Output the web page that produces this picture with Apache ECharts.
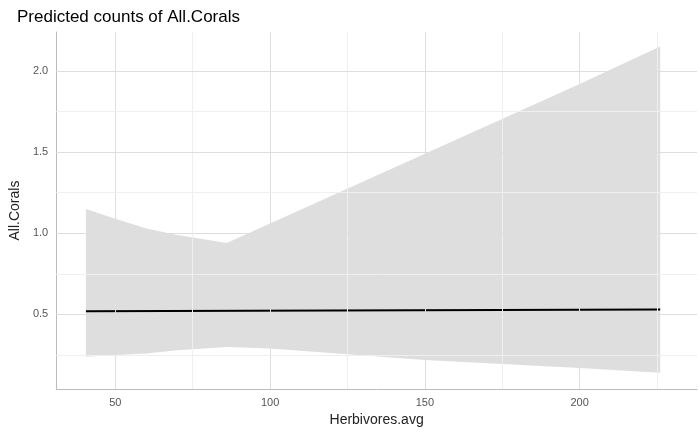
<!DOCTYPE html>
<html><head><meta charset="utf-8">
<script src="https://cdn.jsdelivr.net/npm/echarts@6/dist/echarts.min.js"></script>
<style>html,body{margin:0;padding:0;background:#fff}#c{width:700px;height:432px}</style>
</head><body><div id="c"></div>
<script>
var xs = [40.5, 50, 60, 70, 86, 100, 150, 200, 226]
var upper = [1.15, 1.09, 1.03, 0.99, 0.94, 1.06, 1.49, 1.92, 2.15]
var lower = [0.24, 0.25, 0.26, 0.28, 0.30, 0.29, 0.22, 0.17, 0.14]
var fitX = [40.5, 226]
var fitY = [0.52, 0.53]
var xTicks = [50, 100, 150, 200]
var yTicks = [0.5, 1.0, 1.5, 2.0]
var xGrid = [50, 75, 100, 125, 150, 175, 200, 225]
var yGrid = [0.25, 0.5, 0.75, 1.0, 1.25, 1.5, 1.75, 2.0]

var chart = echarts.init(document.getElementById('c'))
var font = 'Liberation Sans, Arial, sans-serif'

var gridLines = xGrid.map(function (v) {
	return {xAxis: v, lineStyle: {color: v % 50 === 0 ? '#dedede' : '#efefef'}}
}).concat(yGrid.map(function (v) {
	return {yAxis: v, lineStyle: {color: (v * 2) % 1 === 0 ? '#dedede' : '#efefef'}}
}))

chart.setOption({
	animation: false,
	title: {
		text: 'Predicted counts of All.Corals', left: 12, top: 4,
		textStyle: {fontFamily: font, fontSize: 17, fontWeight: 'normal', color: '#000'}
	},
	grid: {left: 47, right: 3, top: 32, bottom: 42},
	xAxis: {
		type: 'value', min: 30.9, max: 237.9,
		name: 'Herbivores.avg', nameLocation: 'middle', nameGap: 21,
		nameTextStyle: {fontFamily: font, fontSize: 14, color: '#222'},
		axisLine: {show: true, lineStyle: {color: '#bbb'}},
		axisTick: {show: false},
		axisLabel: {fontFamily: font, fontSize: 11, color: '#555', customValues: xTicks},
		splitLine: {show: false}
	},
	yAxis: {
		type: 'value', min: 0.04, max: 2.24,
		name: 'All.Corals', nameLocation: 'middle', nameGap: 30,
		nameTextStyle: {fontFamily: font, fontSize: 14, color: '#222'},
		axisLine: {show: true, lineStyle: {color: '#bbb'}},
		axisTick: {show: false},
		axisLabel: {
			fontFamily: font, fontSize: 11, color: '#555', customValues: yTicks,
			formatter: function (v) { return v.toFixed(1) }
		},
		splitLine: {show: false}
	},
	series: [
		{
			type: 'line', symbol: 'none', silent: true, data: [],
			markLine: {silent: true, symbol: 'none', label: {show: false},
				lineStyle: {type: 'solid', width: 1}, data: gridLines}
		},
		{
			type: 'custom', silent: true,
			data: [0],
			renderItem: function (params, api) {
				var pts = []
				xs.forEach(function (x, i) { pts.push(api.coord([x, upper[i]])) })
				for (var i = xs.length - 1; i >= 0; i--) pts.push(api.coord([xs[i], lower[i]]))
				return {type: 'polygon', shape: {points: pts}, style: {fill: 'rgba(190,190,190,0.5)'}}
			}
		},
		{
			type: 'line', symbol: 'none',
			data: fitX.map(function (x, i) { return [x, fitY[i]] }),
			lineStyle: {color: '#000', width: 2}
		}
	]
})
</script></body></html>
